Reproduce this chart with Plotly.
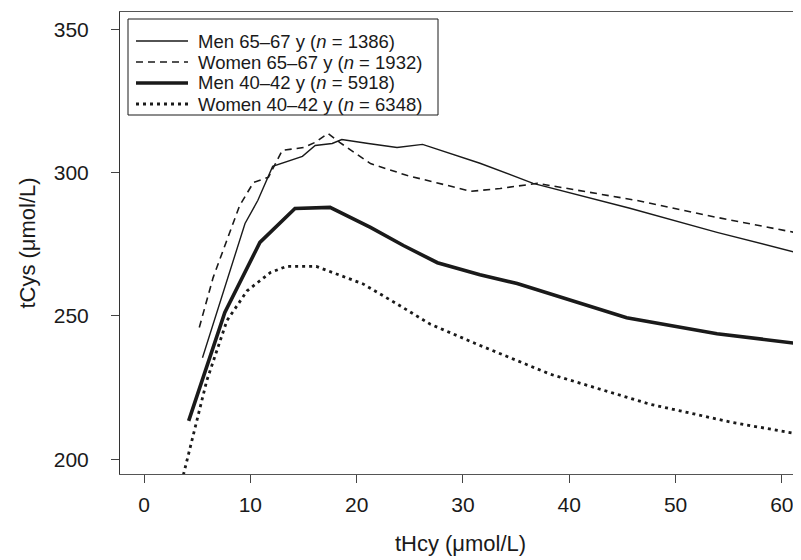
import plotly.graph_objects as go

# Men 65-67 y (thin solid)
men_old_x = [5.5, 9.5, 10.7, 12.1, 14.9, 16.1, 17.7, 18.6, 21.1, 23.8, 26.2, 28.8, 31.6, 36.6, 45.7, 53.9, 59.8, 61.7]
men_old_y = [235.4, 282.3, 290.3, 302.2, 305.7, 309.5, 310.2, 311.6, 310.2, 308.8, 309.9, 306.8, 303.3, 296.3, 287.6, 279.2, 273.6, 271.8]

# Women 65-67 y (dashed)
women_old_x = [5.2, 6.5, 9.0, 10.3, 11.7, 13.0, 15.0, 16.1, 17.3, 18.4, 21.3, 24.7, 28.5, 30.7, 33.5, 37.0, 46.4, 53.9, 61.7]
women_old_y = [246.0, 263.4, 288.6, 296.6, 298.4, 307.8, 308.8, 310.6, 313.7, 310.6, 303.2, 299.1, 295.6, 293.5, 294.5, 296.3, 290.3, 284.4, 278.8]

# Men 40-42 y (thick solid)
men_young_x = [4.2, 7.6, 10.9, 14.2, 17.5, 21.3, 24.4, 27.6, 31.6, 35.1, 45.4, 53.9, 61.7]
men_young_y = [213.4, 251.2, 275.7, 287.5, 287.9, 280.9, 274.6, 268.6, 264.4, 261.3, 249.4, 243.8, 240.3]

# Women 40-42 y (dotted)
women_young_x = [3.7, 4.3, 5.9, 7.8, 9.7, 11.9, 13.4, 16.2, 18.1, 20.6, 23.8, 26.9, 31.3, 38.2, 47.6, 55.4, 61.7]
women_young_y = [194.5, 203.4, 227.4, 248.4, 258.8, 265.2, 267.3, 267.3, 264.7, 261.2, 254.2, 247.2, 240.2, 229.7, 219.2, 212.8, 208.7]

series_names = [
    "Men 65–67 y (<i>n</i> = 1386)",
    "Women 65–67 y (<i>n</i> = 1932)",
    "Men 40–42 y (<i>n</i> = 5918)",
    "Women 40–42 y (<i>n</i> = 6348)",
]

x_ticks = [0, 10, 20, 30, 40, 50, 60]
y_ticks = [200, 250, 300, 350]

ink = "#1a1a1a"
font_family = "Liberation Sans, Arial, Helvetica, sans-serif"

styles = [
    dict(color=ink, width=1.4),
    dict(color=ink, width=1.6, dash="7px,5px"),
    dict(color=ink, width=3.6),
    dict(color=ink, width=2.8, dash="3px,4px"),
]
xs = [men_old_x, women_old_x, men_young_x, women_young_x]
ys = [men_old_y, women_old_y, men_young_y, women_young_y]

fig = go.Figure()
for x, y, name, st in zip(xs, ys, series_names, styles):
    fig.add_trace(go.Scatter(x=x, y=y, mode="lines", name=name, line=st, showlegend=False))

# The page body has an 8px margin; figure is sized so the plot area spans
# page pixels x 120..801, y 12..474.
W, H = 793, 552
ML, MT, MB = 112, 4, 86
plot_w = W - ML
plot_h = H - MT - MB
ox, oy = 8 + ML, 8 + MT  # page coords of plot-area top-left


def px(xp):
    return (xp - ox) / plot_w


def py(yp):
    return 1 - (yp - oy) / plot_h


# Legend (drawn as a framed key in the upper-left corner)
box_l, box_r, box_t, box_b = 128, 438, 19, 115
row_y = [41, 62, 83, 104]
line_l, line_r, text_l = 136, 188, 196

shapes = [dict(type="rect", xref="paper", yref="paper",
               x0=px(box_l), x1=px(box_r), y0=py(box_b), y1=py(box_t),
               line=dict(color=ink, width=1), fillcolor="white", layer="above")]
annotations = []
for ry, name, st in zip(row_y, series_names, styles):
    shapes.append(dict(type="line", xref="paper", yref="paper",
                       x0=px(line_l), x1=px(line_r), y0=py(ry), y1=py(ry),
                       line=st, layer="above"))
    annotations.append(dict(xref="paper", yref="paper", x=px(text_l), y=py(ry),
                            text=name, showarrow=False, xanchor="left", yanchor="middle",
                            font=dict(size=18.5, family=font_family, color=ink)))

fig.update_layout(
    width=W, height=H,
    margin=dict(l=ML, r=0, t=MT, b=MB),
    paper_bgcolor="white", plot_bgcolor="white",
    font=dict(family=font_family, color=ink, size=20),
    showlegend=False,
    shapes=shapes,
    annotations=annotations,
    xaxis=dict(
        range=[-2.26, 61.8], tickvals=x_ticks, ticktext=[str(v) for v in x_ticks],
        ticks="outside", ticklen=8, tickcolor="#444", tickwidth=1,
        showline=True, linecolor="#555", linewidth=1, mirror=True,
        showgrid=False, zeroline=False, automargin=False,
        tickfont=dict(size=21), ticklabelstandoff=4,
        title=dict(text="tHcy (μmol/L)", font=dict(size=22), standoff=20),
    ),
    yaxis=dict(
        range=[194.85, 356.1], tickvals=y_ticks, ticktext=[str(v) for v in y_ticks],
        ticks="outside", ticklen=8, tickcolor="#444", tickwidth=1,
        showline=True, linecolor="#333", linewidth=1, mirror=False,
        showgrid=False, zeroline=False, automargin=False,
        tickfont=dict(size=21), ticklabelstandoff=18,
        title=dict(text="tCys (μmol/L)", font=dict(size=22), standoff=12),
    ),
)

fig.write_html("out.html")
